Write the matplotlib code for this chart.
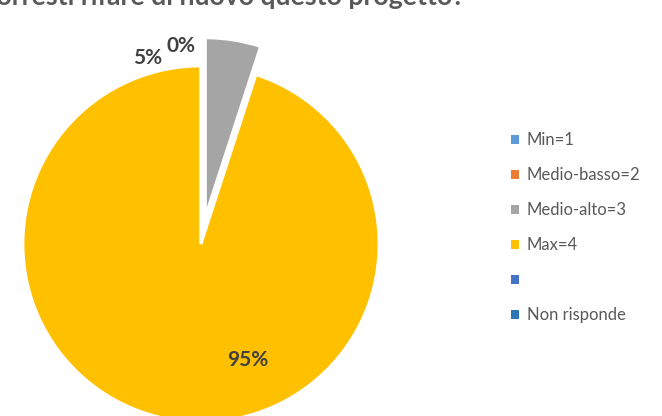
import matplotlib.pyplot as plt

categories = ["Min=1", "Medio-basso=2", "Medio-alto=3", "Max=4", "", "Non risponde"]
values = [0, 0, 5, 95, 0, 0]
colors = ["#5B9BD5", "#ED7D31", "#A5A5A5", "#FFC000", "#4472C4", "#2E75B6"]
explode = [0, 0, 0.16, 0, 0, 0]

title = "Vorresti rifare di nuovo questo progetto?"

plt.rcParams['font.family'] = ['Lato', 'DejaVu Sans']

fig = plt.figure(figsize=(6.62, 4.16), dpi=100)
W, H = 662, 416
cx, cy, r = 201, 244, 178
ax = fig.add_axes([(cx - r) / W, (H - cy - r) / H, 2 * r / W, 2 * r / H])

wedges, _ = ax.pie(values, colors=colors, explode=explode, startangle=90,
                   counterclock=False, radius=1,
                   wedgeprops=dict(edgecolor="white", linewidth=2))
for w in wedges:
    w.set_clip_on(False)
ax.set_xlim(-1, 1)
ax.set_ylim(-1, 1)
ax.set_aspect("equal")

label_style = dict(fontsize=15, fontweight="bold", color="#404040",
                   ha="center", va="center")
total = sum(values)
pct = [f"{v / total * 100:.0f}%" for v in values]
ax.text(-0.30, 1.045, pct[2], clip_on=False, **label_style)
ax.text(-0.11, 1.11, pct[0], clip_on=False, **label_style)
ax.text(0.26, -0.65, pct[3], clip_on=False, **label_style)

# title partly cut off at the top edge, as in the source image
fig.text(221 / W, 1 - 5 / H, title, fontsize=19.2, fontweight="bold",
         color="#595959", ha="center", va="baseline")

leg = fig.legend(wedges, categories, loc="upper left",
                 bbox_to_anchor=(496 / W, 1 - 117 / H), frameon=False,
                 fontsize=12, labelspacing=1.14, handlelength=0.45,
                 handleheight=0.45, handletextpad=0.5)
for t in leg.get_texts():
    t.set_color("#595959")
for h in leg.legend_handles:
    h.set_edgecolor("none")

fig.savefig("out.png", dpi=100)
